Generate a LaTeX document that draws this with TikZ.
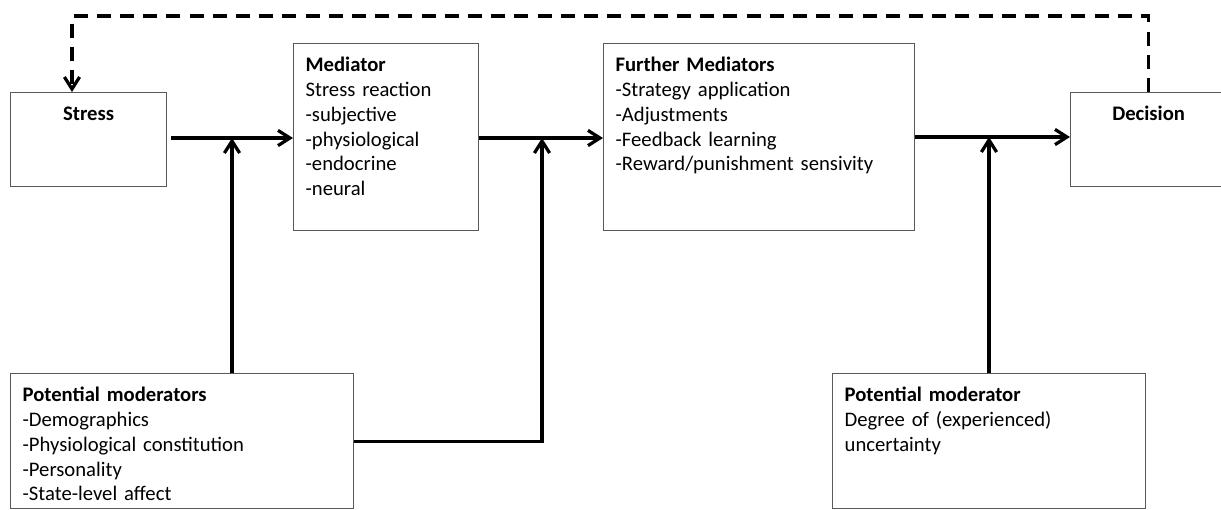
\documentclass[tikz,border=0pt]{standalone}
\usepackage{fontspec}
\setmainfont{Carlito}
\usetikzlibrary{arrows.meta}

\begin{document}
\begin{tikzpicture}[
      x=0.025cm, y=-0.025cm,
      font=\fontsize{14.7}{17.6}\selectfont,
      box/.style={draw=black!65, line width=0.9pt, anchor=north west, align=left,
                  inner xsep=0.3cm, inner ysep=0.33cm, text height=0.375cm},
      endbox/.style={box, align=center, text width=3.3cm, text depth=1.315cm},
      arrow/.style={-{Straight Barb[length=0.3cm, width=0.38cm]}, line width=2.3pt},
      dasharrow/.style={arrow, dash pattern=on 0.35cm off 0.23cm}
    ]
    \useasboundingbox (0,0) rectangle (1221,509);
    \clip (0,0) rectangle (1221,509);

    % Main chain
    \node[endbox] (stress) at (10,92) {\textbf{Stress}};
    \node[box, text width=4.025cm, text depth=3.64cm] (med) at (293,43)
      {\textbf{Mediator}\\Stress reaction\\-subjective\\-physiological\\-endocrine\\-neural};
    \node[box, text width=7.175cm, text depth=3.64cm] (fmed) at (603,43)
      {\textbf{Further Mediators}\\-Strategy application\\-Adjustments\\-Feedback learning\\-Reward/punishment sensivity};
    \node[endbox] (dec) at (1070,92) {\textbf{Decision}};

    % Moderators
    \node[box, text width=7.975cm, text depth=2.34cm] (modl) at (10,373)
      {\textbf{Potential moderators}\\-Demographics\\-Physiological constitution\\-Personality\\-State-level affect};
    \node[box, text width=7.225cm, text depth=2.34cm] (modr) at (832,373)
      {\textbf{Potential moderator}\\Degree of (experienced)\\uncertainty};

    \coordinate (j1) at (232,138);
    \coordinate (j2) at (542,138);
    \coordinate (j3) at (989,137);
    \coordinate (fb) at (72,16);

    \draw[arrow, shorten <=0.1cm] (stress.east |- j1) -- (med.west |- j1);
    \draw[arrow] (med.east |- j2) -- (fmed.west |- j2);
    \draw[arrow] (fmed.east |- j3) -- (dec.west |- j3);

    \draw[arrow] (j1 |- modl.north) -- (j1);
    \draw[arrow] (modl.east) -| (j2);
    \draw[arrow] (j3 |- modr.north) -- (j3);

    % Feedback loop
    \draw[dasharrow] (dec.north) |- (fb) -- (fb |- stress.north);
  \end{tikzpicture}
\end{document}
